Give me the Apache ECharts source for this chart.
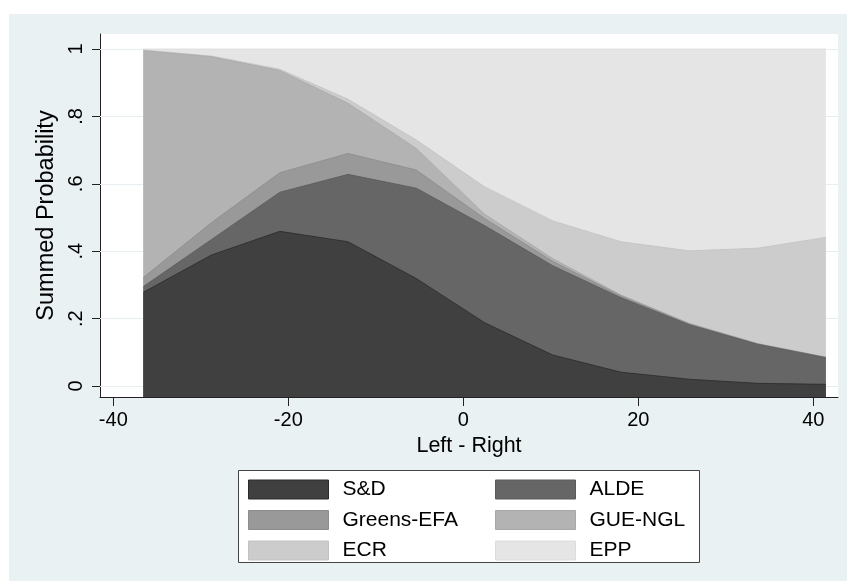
<!DOCTYPE html>
<html>
<head>
<meta charset="utf-8">
<script src="https://cdn.jsdelivr.net/npm/echarts@6/dist/echarts.min.js"></script>
<style>
html,body{margin:0;padding:0;background:#fff;}
#chart{width:847px;height:581px;}
</style>
</head>
<body>
<div id="chart"></div>
<script>
// ---- data ----
const leftRight = [-36.57, -28.77, -20.97, -13.17, -5.37, 2.43, 10.23, 18.03, 25.83, 33.63, 41.43];
const sd     = [0.278, 0.389, 0.459, 0.428, 0.319, 0.188, 0.092, 0.041, 0.020, 0.008, 0.005];
const alde   = [0.017, 0.046, 0.116, 0.200, 0.268, 0.288, 0.265, 0.221, 0.162, 0.116, 0.079];
const greens = [0.027, 0.050, 0.058, 0.062, 0.054, 0.021, 0.013, 0.005, 0.002, 0.001, 0.001];
const gue    = [0.673, 0.492, 0.303, 0.149, 0.064, 0.013, 0.008, 0.003, 0.002, 0.001, 0.001];
const ecr    = [0.002, 0.002, 0.004, 0.012, 0.025, 0.081, 0.112, 0.158, 0.215, 0.283, 0.355];
const epp    = [0.003, 0.021, 0.060, 0.149, 0.270, 0.409, 0.510, 0.572, 0.599, 0.591, 0.559];
const seriesNames = ['S&D', 'ALDE', 'Greens-EFA', 'GUE-NGL', 'ECR', 'EPP'];
const xTicks = [-40, -20, 0, 20, 40];
const yTicks = [0, 0.2, 0.4, 0.6, 0.8, 1];
const yTickLabels = ['0', '.2', '.4', '.6', '.8', '1'];

// ---- styling ----
const fills   = ['#404040', '#666666', '#999999', '#b3b3b3', '#cccccc', '#e5e5e5'];
const borders = ['#2a2a2a', '#5a5a5a', '#8c8c8c', '#a8a8a8', '#c2c2c2', '#dcdcdc'];
const FONT = 'Liberation Sans';
const values = [sd, alde, greens, gue, ecr, epp];

// cumulative (summed) probabilities: each area is drawn from 0 up to its running total,
// higher totals underneath, so visible bands equal each party's share
const cumulative = [];
values.forEach((arr, i) => {
  cumulative.push(arr.map((v, k) => v + (i > 0 ? cumulative[i - 1][k] : 0)));
});

const chart = echarts.init(document.getElementById('chart'), null, {renderer: 'canvas'});

const series = seriesNames.map((n, i) => ({
  name: n,
  type: 'line',
  symbol: 'none',
  showSymbol: false,
  z: 10 - i,
  data: leftRight.map((x, k) => [x, cumulative[i][k]]),
  lineStyle: {color: borders[i], width: 0.8},
  itemStyle: {color: fills[i]},
  areaStyle: {color: fills[i], opacity: 1, origin: 'start'},
  emphasis: {disabled: true},
  silent: true
}));
// gridlines drawn beneath the areas
series.push({
  name: 'grid',
  type: 'line',
  data: [],
  z: 1,
  silent: true,
  markLine: {
    silent: true,
    z: 1,
    symbol: 'none',
    label: {show: false},
    animation: false,
    lineStyle: {color: '#e6eef1', width: 1, type: 'solid'},
    data: yTicks.map(v => ({yAxis: v}))
  }
});

function legendItems(idx) {
  return idx.map(i => ({
    name: seriesNames[i],
    icon: 'rect',
    itemStyle: {color: fills[i], borderColor: borders[i], borderWidth: 1}
  }));
}
const legendCommon = {
  orient: 'vertical',
  top: 479,
  itemWidth: 80,
  itemHeight: 19,
  itemGap: 9.5,
  selectedMode: false,
  z: 20,
  padding: 0,
  textStyle: {fontFamily: FONT, fontSize: 21, color: '#000', lineHeight: 19, padding: [0, 0, 0, 9]}
};

const option = {
  animation: false,
  backgroundColor: '#eaf1f3',
  textStyle: {fontFamily: FONT},
  grid: {left: 100, top: 34, right: 9, bottom: 184, show: true, backgroundColor: '#ffffff', borderWidth: 0},
  xAxis: {
    type: 'value',
    min: -41.52,
    max: 42.82,
    name: 'Left - Right',
    nameLocation: 'middle',
    nameGap: 37,
    nameTextStyle: {fontFamily: FONT, fontSize: 21.5, color: '#000'},
    axisLine: {show: true, onZero: false, lineStyle: {color: '#222', width: 1}},
    axisTick: {show: true, length: 9, customValues: xTicks, lineStyle: {color: '#222'}},
    axisLabel: {customValues: xTicks, fontFamily: FONT, fontSize: 20, color: '#000', margin: 13},
    splitLine: {show: false}
  },
  yAxis: {
    type: 'value',
    min: -0.0326,
    max: 1.0445,
    name: 'Summed Probability',
    nameLocation: 'middle',
    nameGap: 39,
    nameTextStyle: {fontFamily: FONT, fontSize: 23.5, color: '#000'},
    axisLine: {show: true, onZero: false, lineStyle: {color: '#222', width: 1}},
    axisTick: {show: true, length: 8, customValues: yTicks, lineStyle: {color: '#222'}},
    axisLabel: {
      customValues: yTicks,
      rotate: 90,
      fontFamily: FONT, fontSize: 20, color: '#000', margin: 14,
      formatter: v => {
        const i = yTicks.findIndex(t => Math.abs(t - v) < 1e-6);
        return i >= 0 ? yTickLabels[i] : '';
      }
    },
    splitLine: {show: false}
  },
  legend: [
    Object.assign({}, legendCommon, {left: 248, data: legendItems([0, 2, 4])}),
    Object.assign({}, legendCommon, {left: 495, data: legendItems([1, 3, 5])})
  ],
  graphic: [
    {type: 'rect', z: -5, silent: true, shape: {x: 0, y: 0, width: 847, height: 14}, style: {fill: '#ffffff'}},
    {type: 'rect', z: -5, silent: true, shape: {x: 0, y: 0, width: 9, height: 581}, style: {fill: '#ffffff'}},
    {type: 'rect', z: 1, silent: true, shape: {x: 238.5, y: 470.5, width: 461, height: 92},
     style: {fill: '#ffffff', stroke: '#444', lineWidth: 1}}
  ],
  series: series
};
chart.setOption(option);
</script>
</body>
</html>
